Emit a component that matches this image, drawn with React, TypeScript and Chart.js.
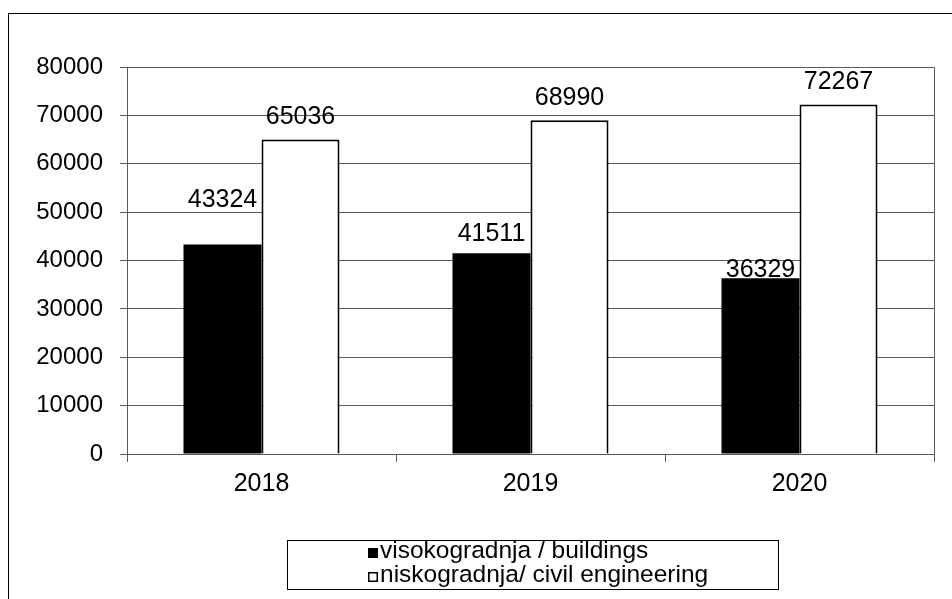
import React, { useEffect, useRef } from "react";
import { Chart, registerables } from "chart.js";

Chart.register(...registerables);

const years = ["2018", "2019", "2020"];
const buildings = [43324, 41511, 36329];
const civilEngineering = [65036, 68990, 72267];
const seriesNames = ["visokogradnja / buildings", "niskogradnja/ civil engineering"];
const yMin = 0;
const yMax = 80000;
const yStep = 10000;

// vertical gap (px) between bar top and label baseline, per series
const labelLift = [
  [37, 12, 1],
  [15, 15, 15],
];

const FONT = "'Liberation Sans', Arial, sans-serif";
const GRID = "#5a5a5a";

const framePlugin = {
  id: "frame",
  beforeDraw(chart: any) {
    const ctx = chart.ctx;
    ctx.save();
    ctx.fillStyle = "#ffffff";
    ctx.fillRect(0, 0, chart.width, chart.height);
    ctx.strokeStyle = "#000000";
    ctx.lineWidth = 1;
    ctx.strokeRect(8.5, 13.5, chart.width + 20, chart.height + 20);
    ctx.restore();
  },
  afterDraw(chart: any) {
    const ctx = chart.ctx;
    const a = chart.chartArea;
    ctx.save();
    ctx.strokeStyle = GRID;
    ctx.lineWidth = 1;
    ctx.beginPath();
    ctx.moveTo(Math.round(a.left) + 0.5, Math.round(a.top) + 0.5);
    ctx.lineTo(Math.round(a.right) + 0.5, Math.round(a.top) + 0.5);
    ctx.lineTo(Math.round(a.right) + 0.5, Math.round(a.bottom) + 0.5);
    ctx.stroke();
    ctx.restore();

    // legend
    ctx.save();
    ctx.strokeStyle = "#000000";
    ctx.lineWidth = 1;
    ctx.strokeRect(287.5, 540.5, 491, 49);
    ctx.font = `24.5px ${FONT}`;
    ctx.textBaseline = "alphabetic";
    ctx.textAlign = "left";
    chart.data.datasets.forEach((ds: any, i: number) => {
      const baseY = 558 + i * 24;
      const mx = 368;
      const my = baseY - 10;
      if (i === 0) {
        ctx.fillStyle = "#000000";
        ctx.fillRect(mx, my, 10, 10);
      } else {
        ctx.fillStyle = "#ffffff";
        ctx.fillRect(mx, my, 10, 10);
        ctx.strokeStyle = "#000000";
        ctx.lineWidth = 1.5;
        ctx.strokeRect(mx + 0.75, my + 0.75, 8.5, 8.5);
      }
      ctx.fillStyle = "#000000";
      ctx.fillText(ds.label, 380, baseY);
    });
    ctx.restore();
  },
};

const labelPlugin = {
  id: "barLabels",
  afterDatasetsDraw(chart: any) {
    const ctx = chart.ctx;
    ctx.save();
    ctx.font = `25px ${FONT}`;
    ctx.fillStyle = "#000000";
    ctx.textAlign = "center";
    ctx.textBaseline = "alphabetic";
    chart.data.datasets.forEach((ds: any, di: number) => {
      const meta = chart.getDatasetMeta(di);
      meta.data.forEach((el: any, i: number) => {
        ctx.fillText(String(ds.data[i]), el.x, el.y - labelLift[di][i]);
      });
    });
    ctx.restore();
  },
};

export default function App() {
  const ref = useRef<HTMLCanvasElement>(null);
  useEffect(() => {
    if (!ref.current) return;
    const chart = new Chart(ref.current, {
      type: "bar",
      data: {
        labels: years,
        datasets: [
          {
            label: seriesNames[0],
            data: buildings,
            backgroundColor: "#000000",
            borderColor: "#000000",
            borderWidth: 0,
          },
          {
            label: seriesNames[1],
            data: civilEngineering,
            backgroundColor: "#ffffff",
            borderColor: "#000000",
            borderWidth: 2,
          },
        ],
      },
      options: {
        responsive: false,
        animation: false,
        layout: { padding: { top: 67, right: 18, left: 0, bottom: 0 } },
        datasets: { bar: { categoryPercentage: 0.58, barPercentage: 1 } },
        plugins: {
          legend: { display: false },
          tooltip: { enabled: false },
        },
        scales: {
          x: {
            offset: true,
            grid: {
              offset: true,
              drawOnChartArea: false,
              drawTicks: true,
              tickLength: 8,
              color: GRID,
            },
            border: { display: true, color: GRID },
            ticks: {
              color: "#000000",
              font: { family: FONT, size: 25 },
              padding: 7,
              maxRotation: 0,
            },
            afterFit: (scale: any) => {
              scale.height = 145;
            },
          },
          y: {
            min: yMin,
            max: yMax,
            grid: { color: GRID, tickLength: 7 },
            border: { display: true, color: GRID },
            ticks: {
              stepSize: yStep,
              color: "#000000",
              font: { family: FONT, size: 24 },
              padding: 17,
              callback: (v: any) => String(v),
            },
            afterFit: (scale: any) => {
              scale.width = 127;
            },
          },
        },
      },
      plugins: [framePlugin, labelPlugin],
    });
    return () => chart.destroy();
  }, []);
  return (
    <div style={{ position: "fixed", left: 0, top: 0, width: 952, height: 599 }}>
      <canvas ref={ref} width={952} height={599} style={{ width: 952, height: 599, display: "block" }} />
    </div>
  );
}
